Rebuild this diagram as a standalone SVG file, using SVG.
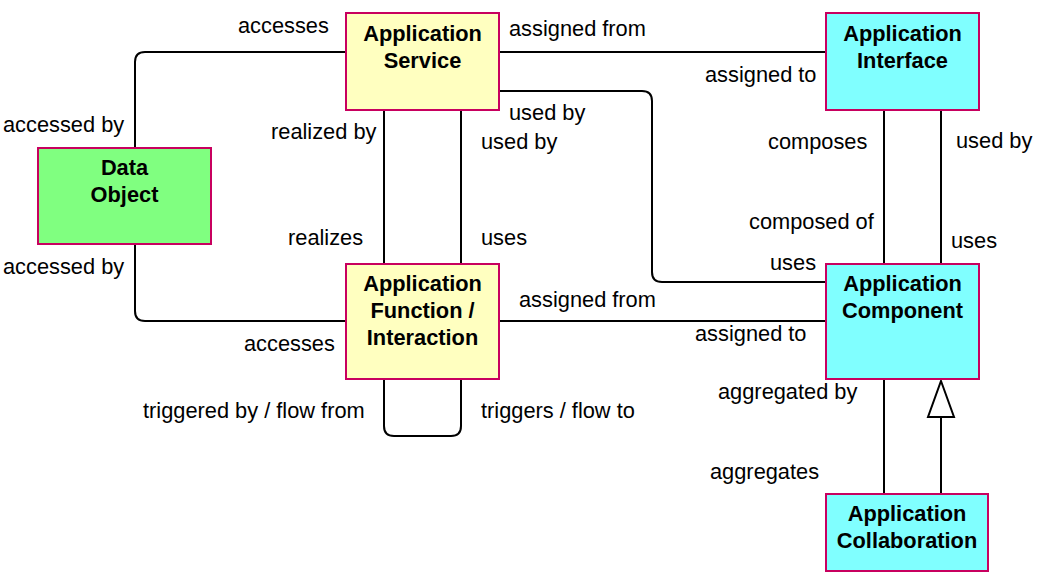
<svg xmlns="http://www.w3.org/2000/svg" width="1043" height="577" viewBox="0 0 1043 577">
<style>
.n{stroke:#c8005f;stroke-width:2}
.y{fill:#ffffc0}.c{fill:#80ffff}.g{fill:#80ff80}
.t{font-family:"Liberation Sans",Arial,sans-serif;font-size:21.8px;font-weight:bold;text-anchor:middle;fill:#000}
.l{font-family:"Liberation Sans",Arial,sans-serif;font-size:21.8px;fill:#000}
.e{fill:none;stroke:#000;stroke-width:2}
</style>
<rect width="1043" height="577" fill="#fff"/>
<g id="connectors">
<path class="e" d="M346,52 H145 Q135,52 135,62 V148"/>
<path class="e" d="M135,244 V311 Q135,321 145,321 H346"/>
<path class="e" d="M499,52 H826"/>
<path class="e" d="M384,110 V264"/>
<path class="e" d="M461,110 V264"/>
<path class="e" d="M499,91 H642 Q652,91 652,101 V272 Q652,282 662,282 H826"/>
<path class="e" d="M499,321 H826"/>
<path class="e" d="M884,110 V264"/>
<path class="e" d="M941,110 V264"/>
<path class="e" d="M384,379 V426 Q384,436 394,436 H451 Q461,436 461,426 V379"/>
<path class="e" d="M884,379 V494"/>
<path class="e" d="M941,494 V417"/>
<path d="M941,381 L954,417 H928 Z" fill="#fff" stroke="#000" stroke-width="2" stroke-linejoin="miter"/>
</g>
<g id="applicationService">
<rect class="n y" x="346" y="13" width="153" height="97"/>
<text class="t" x="422.5" y="41">Application</text>
<text class="t" x="422.5" y="68">Service</text>
</g>
<g id="applicationInterface">
<rect class="n c" x="826" y="13" width="153" height="97"/>
<text class="t" x="902.5" y="41">Application</text>
<text class="t" x="902.5" y="68">Interface</text>
</g>
<g id="dataObject">
<rect class="n g" x="38" y="148" width="173" height="96"/>
<text class="t" x="124.5" y="175">Data</text>
<text class="t" x="124.5" y="202">Object</text>
</g>
<g id="applicationFunction">
<rect class="n y" x="346" y="264" width="153" height="115"/>
<text class="t" x="422.5" y="291">Application</text>
<text class="t" x="422.5" y="318">Function /</text>
<text class="t" x="422.5" y="345">Interaction</text>
</g>
<g id="applicationComponent">
<rect class="n c" x="826" y="264" width="153" height="115"/>
<text class="t" x="902.5" y="291">Application</text>
<text class="t" x="902.5" y="318">Component</text>
</g>
<g id="applicationCollaboration">
<rect class="n c" x="826" y="494" width="162" height="77"/>
<text class="t" x="907" y="521">Application</text>
<text class="t" x="907" y="548">Collaboration</text>
</g>
<g id="labels">
<text class="l" x="238" y="33">accesses</text>
<text class="l" x="509" y="36">assigned from</text>
<text class="l" x="705" y="82">assigned to</text>
<text class="l" x="3" y="132">accessed by</text>
<text class="l" x="271" y="139">realized by</text>
<text class="l" x="509" y="120">used by</text>
<text class="l" x="481" y="149">used by</text>
<text class="l" x="768" y="149">composes</text>
<text class="l" x="956" y="148">used by</text>
<text class="l" x="749" y="229">composed of</text>
<text class="l" x="288" y="245">realizes</text>
<text class="l" x="481" y="245">uses</text>
<text class="l" x="951" y="248">uses</text>
<text class="l" x="770" y="270">uses</text>
<text class="l" x="3" y="274">accessed by</text>
<text class="l" x="519" y="307">assigned from</text>
<text class="l" x="695" y="341">assigned to</text>
<text class="l" x="244" y="351">accesses</text>
<text class="l" x="718" y="399">aggregated by</text>
<text class="l" x="143" y="418">triggered by / flow from</text>
<text class="l" x="481" y="418">triggers / flow to</text>
<text class="l" x="710" y="479">aggregates</text>
</g>
</svg>
